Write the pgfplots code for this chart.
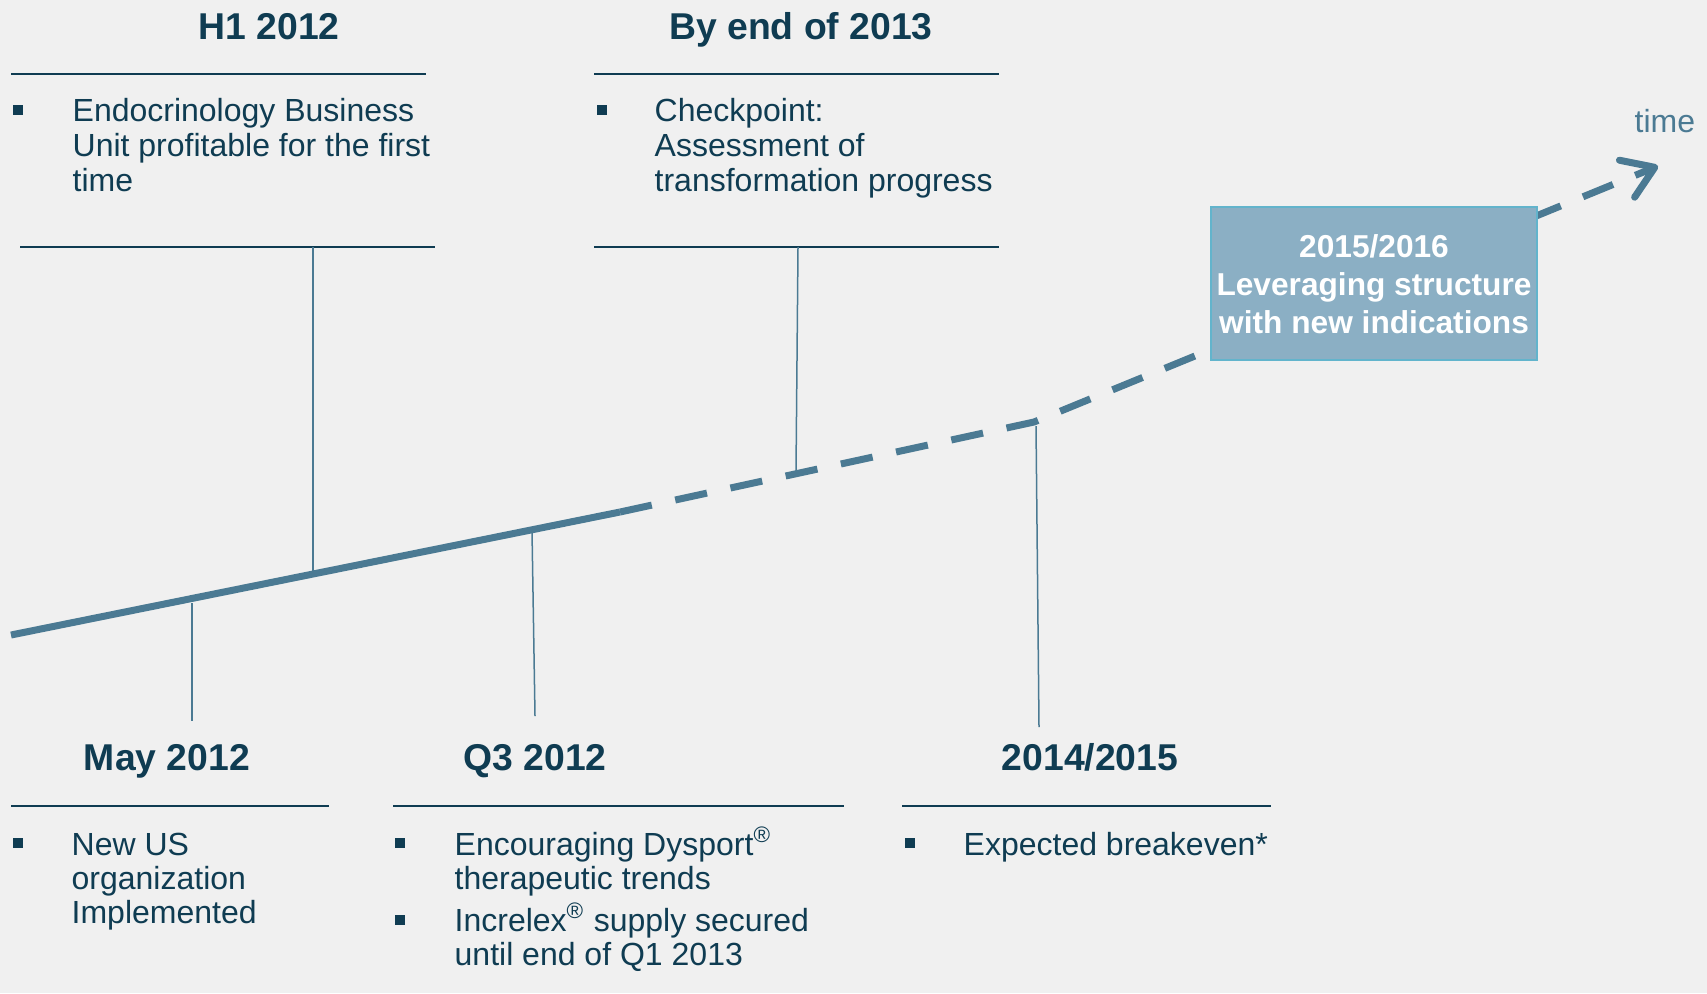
\documentclass[border=0pt]{standalone}
\usepackage{pgfplots}
\pgfplotsset{compat=1.18}
\usepackage{fontspec}
\setmainfont{Liberation Sans}
\usetikzlibrary{arrows.meta}

\definecolor{navy}{HTML}{0F3C52}
\definecolor{steel}{HTML}{4B7A93}
\definecolor{boxfill}{HTML}{8BAFC4}
\definecolor{boxline}{HTML}{62B4CC}
\definecolor{bg}{HTML}{F0F0F0}

\newcommand{\bodyfont}{\fontsize{9.6pt}{10.4pt}\selectfont}
\newcommand{\headfont}{\fontsize{11.2pt}{13pt}\selectfont\bfseries}
\newcommand{\boxfont}{\fontsize{9.5pt}{11.4pt}\selectfont\bfseries}

\tikzset{
  txt/.style={anchor=base west, text=navy, font=\bodyfont, inner sep=0pt},
  hd/.style={anchor=base, text=navy, font=\headfont, inner sep=0pt},
  bx/.style={anchor=base, text=white, font=\boxfont, inner sep=0pt},
}

\begin{document}
\begin{tikzpicture}
\begin{axis}[
  width=512.1pt, height=297.9pt, scale only axis,
  xmin=0, xmax=1707, ymin=0, ymax=993, y dir=reverse,
  hide axis, clip=false,
]
% background
\fill[bg] (axis cs:0,0) rectangle (axis cs:1707,993);

% horizontal rules
\addplot[navy, line width=0.6pt] coordinates {(11,74) (426,74)};
\addplot[navy, line width=0.6pt] coordinates {(594,74) (999,74)};
\addplot[navy, line width=0.6pt] coordinates {(20,247) (435,247)};
\addplot[navy, line width=0.6pt] coordinates {(594,247) (999,247)};
\addplot[navy, line width=0.6pt] coordinates {(11,806) (329,806)};
\addplot[navy, line width=0.6pt] coordinates {(393,806) (844,806)};
\addplot[navy, line width=0.6pt] coordinates {(902,806) (1271,806)};

% connectors
\addplot[steel, line width=0.45pt] coordinates {(313,247) (313,571)};
\addplot[steel, line width=0.45pt] coordinates {(798,247) (796,471)};
\addplot[steel, line width=0.45pt] coordinates {(192,603) (192,721)};
\addplot[steel, line width=0.45pt] coordinates {(532,531) (535,716)};
\addplot[steel, line width=0.45pt] coordinates {(1036,426) (1039,727)};

% timeline
\addplot[steel, line width=2.1pt] coordinates {(11,635) (620,512)};
\addplot[steel, line width=2.1pt, dash pattern=on 9.75pt off 7.2pt,
  -{Straight Barb[length=9pt,width=12pt,round]}] coordinates {(620,512) (1034,422) (1658,166)};

% bullets
\addplot[only marks, mark=square*, mark size=1.35pt, navy] coordinates {
  (18,110) (602,110) (18,843) (400,843) (400,920) (910,843)};

% box
\draw[boxline, fill=boxfill, line width=0.4pt] (axis cs:1211,207) rectangle (axis cs:1537,360);
\node[bx] at (axis cs:1374,257) {2015/2016};
\node[bx] at (axis cs:1374,295) {Leveraging structure};
\node[bx] at (axis cs:1374,333) {with new indications};
\node[anchor=base west, text=steel, font=\bodyfont, inner sep=0pt] at (axis cs:1634,132) {time};

% headings
\node[hd] at (axis cs:269,39) {H1 2012};
\node[hd] at (axis cs:801,39) {By end of 2013};
\node[hd] at (axis cs:167,770) {May 2012};
\node[hd] at (axis cs:535,770) {Q3 2012};
\node[hd] at (axis cs:1090,770) {2014/2015};

% texts
\node[txt] at (axis cs:72,121) {Endocrinology Business};
\node[txt] at (axis cs:72,156) {Unit profitable for the first};
\node[txt] at (axis cs:72,191) {time};
\node[txt] at (axis cs:654,121) {Checkpoint:};
\node[txt] at (axis cs:654,156) {Assessment of};
\node[txt] at (axis cs:654,191) {transformation progress};
\node[txt] at (axis cs:71,855) {New US};
\node[txt] at (axis cs:71,889) {organization};
\node[txt] at (axis cs:71,923) {Implemented};
\node[txt] at (axis cs:454,855) {Encouraging Dysport\textsuperscript{®}};
\node[txt] at (axis cs:454,889) {therapeutic trends};
\node[txt] at (axis cs:454,931) {Increlex\textsuperscript{®} supply secured};
\node[txt] at (axis cs:454,965) {until end of Q1 2013};
\node[txt] at (axis cs:963,855) {Expected breakeven*};
\end{axis}
\end{tikzpicture}
\end{document}
